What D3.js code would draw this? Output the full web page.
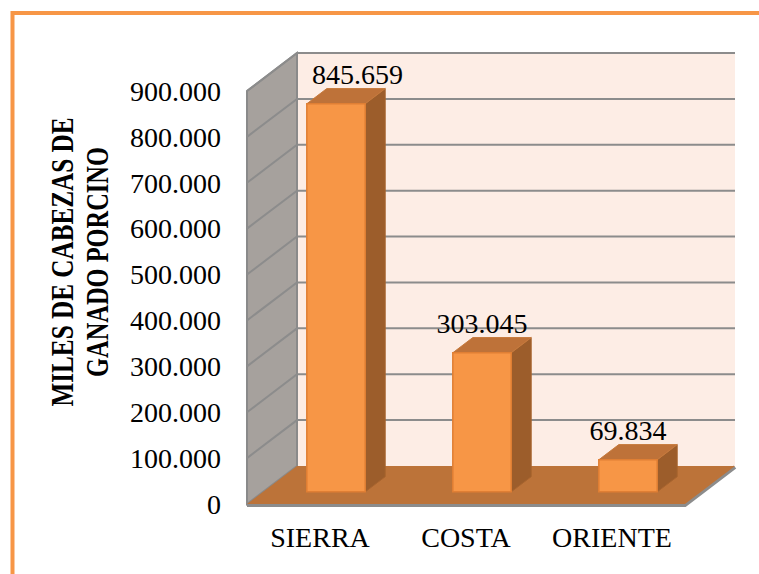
<!DOCTYPE html>
<html>
<head>
<meta charset="utf-8">
<script src="https://cdn.jsdelivr.net/npm/d3@7"></script>
<style>
  html, body { margin: 0; padding: 0; background: #fff; }
  svg text { font-family: "Liberation Serif", "Times New Roman", serif; fill: #000; }
</style>
</head>
<body>
<svg id="chart" width="759" height="574"></svg>
<script>
// data
const regiones = ['SIERRA', 'COSTA', 'ORIENTE'];
const cabezas = [845659, 303045, 69834];
const ticks = [0, 100000, 200000, 300000, 400000, 500000, 600000, 700000, 800000, 900000];
const tituloY = ['MILES DE CABEZAS DE', 'GANADO PORCINO'];

const svg = d3.select('#chart');

// floor front-left corner, width, and depth offset of the 3d box
const X0 = 247, Y0 = 504, W = 438, DX = 50, DY = 38, H = 413;
const barFront = 0.32, barBack = 0.72;

const x = d3.scaleBand()
    .domain(regiones)
    .range([X0, X0 + W])
    .paddingInner(0.6)
    .paddingOuter(0.3);
const y = d3.scaleLinear()
    .domain([0, 900000])
    .range([0, H]);

// project (front x, value, depth 0..1) to screen
const P = (xf, v, d) => [xf + d * DX, Y0 - y(v) - d * DY];
const poly = pts => 'M' + pts.map(p => p.join(',')).join('L') + 'Z';

const fmt = v => d3.format(',')(v).replace(/,/g, '.');

// frame
svg.append('rect')
    .attr('x', 12.5).attr('y', 13)
    .attr('width', 800).attr('height', 600)
    .attr('fill', 'none')
    .attr('stroke', '#F79646')
    .attr('stroke-width', 4);

const vmax = y.domain()[1];

// back wall
svg.append('path')
    .attr('d', poly([P(X0, 0, 1), P(X0 + W, 0, 1), P(X0 + W, vmax, 1), P(X0, vmax, 1)]))
    .attr('fill', '#FDEDE5');

// side wall
svg.append('path')
    .attr('d', poly([P(X0, 0, 0), P(X0, 0, 1), P(X0, vmax, 1), P(X0, vmax, 0)]))
    .attr('fill', '#A6A19D')
    .attr('stroke', '#8A8A8A')
    .attr('stroke-width', 2);

// gridlines on side + back wall
const grid = svg.append('g');
ticks.filter(t => t > 0).forEach(t => {
  grid.append('path')
      .attr('d', 'M' + P(X0, t, 0) + 'L' + P(X0, t, 1) + 'L' + P(X0 + W, t, 1))
      .attr('fill', 'none')
      .attr('stroke', '#8C8C8C')
      .attr('stroke-width', 2);
});

// floor
svg.append('path')
    .attr('d', 'M' + P(X0, 0, 0) + 'L' + P(X0 + W, 0, 0) + 'L' + P(X0 + W, 0, 1))
    .attr('fill', 'none')
    .attr('stroke', '#8C8C8C')
    .attr('stroke-width', 4)
    .attr('transform', 'translate(0,1)');
svg.append('path')
    .attr('d', poly([P(X0, 0, 0), P(X0 + W, 0, 0), P(X0 + W, 0, 1), P(X0, 0, 1)]))
    .attr('fill', '#BC7339');

// bars
const bars = svg.selectAll('g.bar')
    .data(regiones.map((r, i) => ({ r, v: cabezas[i] })))
    .join('g')
    .attr('class', 'bar');

bars.each(function(d) {
  const g = d3.select(this);
  const x1 = x(d.r), x2 = x(d.r) + x.bandwidth();
  // side
  g.append('path')
      .attr('d', poly([P(x2, 0, barFront), P(x2, 0, barBack), P(x2, d.v, barBack), P(x2, d.v, barFront)]))
      .attr('fill', '#9C5D2B')
      .attr('stroke', '#A8642E').attr('stroke-width', 1);
  // top
  g.append('path')
      .attr('d', poly([P(x1, d.v, barFront), P(x2, d.v, barFront), P(x2, d.v, barBack), P(x1, d.v, barBack)]))
      .attr('fill', '#BE7239')
      .attr('stroke', '#C77A3C').attr('stroke-width', 1);
  // front
  g.append('path')
      .attr('d', poly([P(x1, 0, barFront), P(x2, 0, barFront), P(x2, d.v, barFront), P(x1, d.v, barFront)]))
      .attr('fill', '#F79646')
      .attr('stroke', '#E07F34').attr('stroke-width', 1.5);

  // value label, kept inside the plot
  const c = P(x1 + x.bandwidth() / 2, d.v, barFront);
  const top = P(x1, d.v, barBack);
  const t = g.append('text')
      .attr('y', top[1] - 5)
      .attr('font-size', 28)
      .attr('text-anchor', 'middle')
      .text(fmt(d.v));
  const w = t.node().getComputedTextLength();
  const minLeft = X0 + DX + 15;
  t.attr('x', Math.max(c[0], minLeft + w / 2));
});

// y tick labels
svg.append('g')
  .selectAll('text')
  .data(ticks)
  .join('text')
    .attr('x', X0 - 26)
    .attr('y', d => Y0 - y(d))
    .attr('dy', '0.35em')
    .attr('text-anchor', 'end')
    .attr('font-size', 28)
    .text(fmt);

// category labels
svg.append('g')
  .selectAll('text')
  .data(regiones)
  .join('text')
    .attr('x', d => x(d) + x.bandwidth() / 2)
    .attr('y', Y0 + 43)
    .attr('text-anchor', 'middle')
    .attr('font-size', 28)
    .text(d => d);

// axis title
const lens = [289, 230];
svg.append('g')
    .attr('transform', 'translate(62,262) rotate(-90)')
  .selectAll('text')
  .data(tituloY)
  .join('text')
    .attr('x', 0)
    .attr('y', (d, i) => i * 35)
    .attr('dy', '0.35em')
    .attr('text-anchor', 'middle')
    .attr('font-size', 31)
    .attr('font-weight', 'bold')
    .attr('textLength', (d, i) => lens[i])
    .attr('lengthAdjust', 'spacingAndGlyphs')
    .text(d => d);
</script>
</body>
</html>
